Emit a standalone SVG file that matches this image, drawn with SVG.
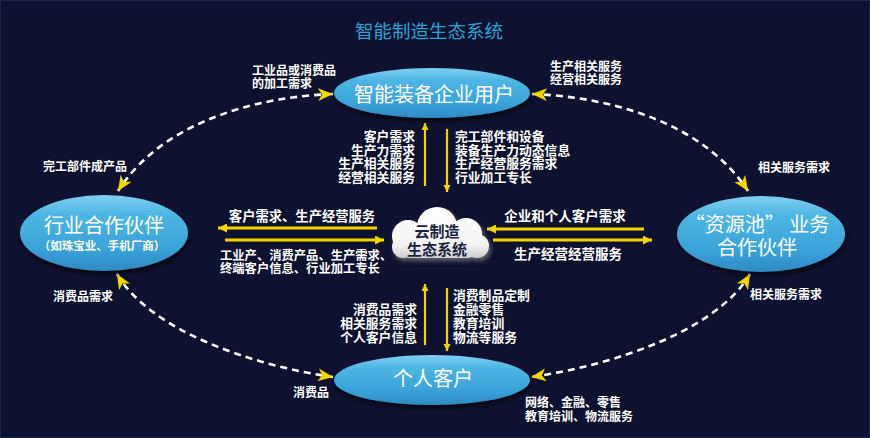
<svg xmlns="http://www.w3.org/2000/svg" width="870" height="438" viewBox="0 0 870 438">
<defs>
<style>
.lbl{font-family:"Noto Sans CJK SC","Noto Sans",sans-serif;font-weight:bold;fill:#ffffff;}
.s12{font-size:12px;}
.s13{font-size:12.8px;}
.node{font-family:"Noto Sans CJK SC","Noto Sans",sans-serif;fill:#ffffff;font-size:20px;text-anchor:middle;}
.sub{font-family:"Noto Sans CJK SC","Noto Sans",sans-serif;fill:#ffffff;font-size:11.5px;font-weight:bold;text-anchor:middle;}
.dash{fill:none;stroke:#ffffff;stroke-width:2.6;stroke-dasharray:7 5;marker-start:url(#chev);marker-end:url(#chev);}
.ya{stroke:#f2d600;fill:none;}
.v{stroke-width:2.2;marker-end:url(#hv);}
.h{stroke-width:3;marker-end:url(#hh);}
</style>
<linearGradient id="eg" x1="0" y1="0" x2="0" y2="1">
<stop offset="0" stop-color="#7fd0f2"/>
<stop offset="0.25" stop-color="#4fb6e4"/>
<stop offset="0.7" stop-color="#3aa3d8"/>
<stop offset="1" stop-color="#2d8bc2"/>
</linearGradient>
<linearGradient id="cg" gradientUnits="userSpaceOnUse" x1="0" y1="207" x2="0" y2="260">
<stop offset="0" stop-color="#ffffff"/>
<stop offset="0.7" stop-color="#f4f4f4"/>
<stop offset="1" stop-color="#c9c9c9"/>
</linearGradient>
<filter id="sh" x="-20%" y="-30%" width="140%" height="170%">
<feDropShadow dx="1" dy="3" stdDeviation="2.5" flood-color="#000000" flood-opacity="0.7"/>
</filter>
<filter id="csh" x="-20%" y="-30%" width="140%" height="170%">
<feDropShadow dx="2" dy="3" stdDeviation="2" flood-color="#6a6a6a" flood-opacity="0.9"/>
</filter>
<marker id="chev" markerUnits="userSpaceOnUse" markerWidth="16" markerHeight="13" refX="15" refY="6.5" orient="auto-start-reverse" viewBox="0 0 16 13">
<path d="M0,0 L15,6.5 L0,13 L4,6.5 z" fill="#f2d600"/>
</marker>
<marker id="hv" markerUnits="userSpaceOnUse" markerWidth="8" markerHeight="8" refX="7" refY="3.5" orient="auto" viewBox="0 0 8 7">
<path d="M0,0 L7,3.5 L0,7 z" fill="#f2d600"/>
</marker>
<marker id="hh" markerUnits="userSpaceOnUse" markerWidth="10" markerHeight="9" refX="9" refY="4.5" orient="auto" viewBox="0 0 10 9">
<path d="M0,0 L9,4.5 L0,9 z" fill="#f2d600"/>
</marker>
</defs>
<rect x="0.5" y="0.5" width="869" height="437" fill="#0e1130" stroke="#1f2449" stroke-width="1"/>
<text x="429" y="38" font-family="Noto Sans CJK SC, Noto Sans, sans-serif" font-size="18.5" fill="#28a4d6" text-anchor="middle">智能制造生态系统</text>

<g id="connectors">
<path class="dash" d="M333 94 C250 97, 160 125, 118 191"/>
<path class="dash" d="M532 94 C615 97, 705 125, 748 191"/>
<path class="dash" d="M117 274 C150 330, 250 365, 333 377"/>
<path class="dash" d="M750 274 C717 330, 615 365, 531 377"/>
<line class="ya v" x1="425" y1="186" x2="425" y2="123"/>
<line class="ya v" x1="447" y1="129" x2="447" y2="192"/>
<line class="ya v" x1="425" y1="345" x2="425" y2="284"/>
<line class="ya v" x1="447" y1="288" x2="447" y2="351"/>
<line class="ya h" x1="377" y1="228" x2="218" y2="228"/>
<line class="ya h" x1="225" y1="240" x2="384" y2="240"/>
<line class="ya h" x1="644" y1="229" x2="487" y2="229"/>
<line class="ya h" x1="493" y1="240" x2="652" y2="240"/>
</g>

<g id="labels">
<text class="lbl s12" x="252" y="75">工业品或消费品</text>
<text class="lbl s12" x="252" y="88">的加工需求</text>
<text class="lbl s12" x="550" y="71">生产相关服务</text>
<text class="lbl s12" x="550" y="84">经营相关服务</text>
<text class="lbl s12" x="43" y="171">完工部件成产品</text>
<text class="lbl s12" x="758" y="172">相关服务需求</text>
<text class="lbl s12" x="53" y="301">消费品需求</text>
<text class="lbl s12" x="750" y="299">相关服务需求</text>
<text class="lbl s12" x="293" y="397">消费品</text>
<text class="lbl s12" x="525" y="407">网络、金融、零售</text>
<text class="lbl s12" x="525" y="421">教育培训、物流服务</text>

<text class="lbl s13" x="415" y="141" text-anchor="end">客户需求</text>
<text class="lbl s13" x="415" y="155" text-anchor="end">生产力需求</text>
<text class="lbl s13" x="415" y="168" text-anchor="end">生产相关服务</text>
<text class="lbl s13" x="415" y="182" text-anchor="end">经营相关服务</text>
<text class="lbl s13" x="455" y="141">完工部件和设备</text>
<text class="lbl s13" x="455" y="155">装备生产力动态信息</text>
<text class="lbl s13" x="455" y="168">生产经营服务需求</text>
<text class="lbl s13" x="455" y="182">行业加工专长</text>

<text class="lbl" font-size="13.3" x="302" y="221" text-anchor="middle">客户需求、生产经营服务</text>
<text class="lbl" font-size="12.3" x="220" y="260">工业产、消费产品、生产需求、</text>
<text class="lbl" font-size="12.3" x="220" y="273">终端客户信息、行业加工专长</text>
<text class="lbl" font-size="13.5" x="565" y="221" text-anchor="middle">企业和个人客户需求</text>
<text class="lbl" font-size="13.5" x="568" y="259" text-anchor="middle">生产经营经营服务</text>

<text class="lbl s13" x="417" y="314" text-anchor="end">消费品需求</text>
<text class="lbl s13" x="417" y="328" text-anchor="end">相关服务需求</text>
<text class="lbl s13" x="417" y="342" text-anchor="end">个人客户信息</text>
<text class="lbl s13" x="453" y="300">消费制品定制</text>
<text class="lbl s13" x="453" y="314">金融零售</text>
<text class="lbl s13" x="453" y="328">教育培训</text>
<text class="lbl s13" x="453" y="342">物流等服务</text>
</g>

<g id="node-top">
<ellipse cx="432" cy="93" rx="98" ry="25" fill="url(#eg)" filter="url(#sh)"/>
<text class="node" x="434" y="102">智能装备企业用户</text>
</g>
<g id="node-left">
<ellipse cx="104" cy="233" rx="84" ry="38" fill="url(#eg)" filter="url(#sh)"/>
<text class="node" x="104" y="233">行业合作伙伴</text>
<text class="sub" x="102" y="250">（如珠宝业、手机厂商）</text>
</g>
<g id="node-right">
<ellipse cx="761" cy="234" rx="84" ry="38" fill="url(#eg)" filter="url(#sh)"/>
<text class="node" x="757" y="232">“资源池” 业务</text>
<text class="node" x="757" y="255">合作伙伴</text>
</g>
<g id="node-bottom">
<ellipse cx="432" cy="380" rx="98" ry="25" fill="url(#eg)" filter="url(#sh)"/>
<text class="node" x="433" y="386">个人客户</text>
</g>
<g id="node-cloud">
<g filter="url(#csh)" fill="url(#cg)">
<circle cx="408" cy="236" r="16"/>
<circle cx="437" cy="227" r="20"/>
<circle cx="466" cy="234" r="16"/>
<circle cx="477" cy="246" r="12"/>
<circle cx="403" cy="247" r="11"/>
<rect x="400" y="230" width="78" height="28" rx="10"/>
</g>
<text x="437" y="237" font-family="Noto Sans CJK SC, Noto Sans, sans-serif" font-size="15" font-weight="bold" fill="#1b2340" text-anchor="middle">云制造</text>
<text x="437" y="255" font-family="Noto Sans CJK SC, Noto Sans, sans-serif" font-size="15" font-weight="bold" fill="#1b2340" text-anchor="middle">生态系统</text>
</g>
</svg>
